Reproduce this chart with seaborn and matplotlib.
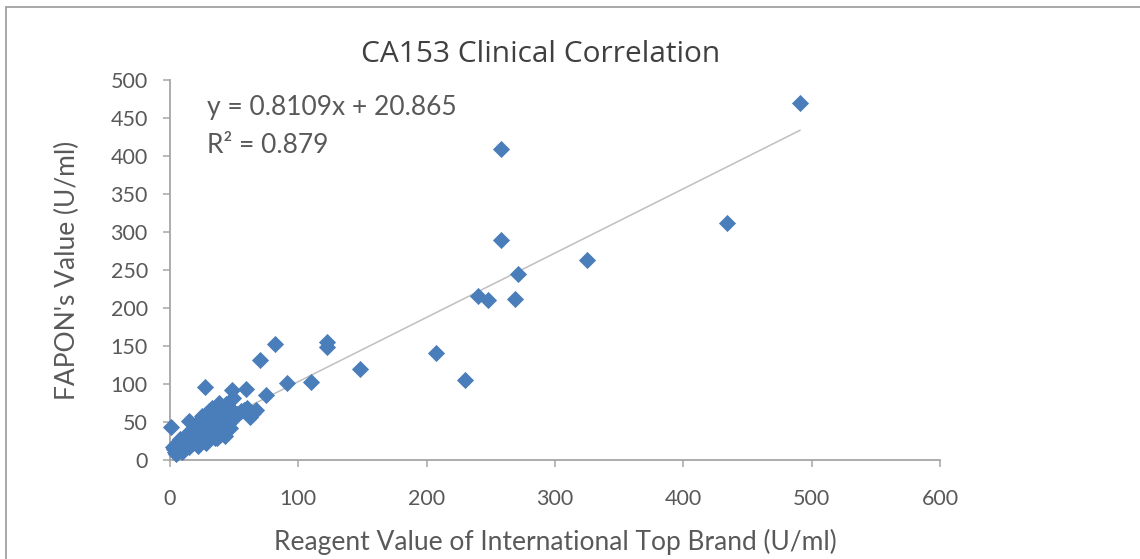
import matplotlib
matplotlib.use("Agg")
import matplotlib.pyplot as plt
import seaborn as sns
import pandas as pd
from matplotlib.patches import Rectangle

# ---- data ----
ref_x = [491, 258, 258, 434, 325, 271, 240, 248, 269, 207, 230, 148, 122, 122, 82, 70,
         91, 110, 59, 75, 27, 1, 48, 15, 62, 67, 58, 38, 49, 30, 44, 60, 65, 37, 43, 4, 41, 35,
         2, 3, 5, 5, 6, 7, 8, 8, 9, 10, 11, 12, 12, 13, 14, 15, 16, 17, 18, 18, 19, 20, 21, 22,
         22, 23, 24, 25, 26, 27, 28, 29, 30, 31, 32, 33, 34, 35, 36, 38, 39, 40, 42, 43, 45, 46,
         47, 50, 52, 55, 44, 36, 25, 20, 28, 33]
fapon_y = [470, 409, 290, 312, 263, 245, 216, 210, 212, 141, 105, 120, 155, 149, 153, 131,
           101, 103, 94, 86, 96, 44, 92, 51, 56, 66, 66, 75, 82, 64, 57, 68, 62, 29, 31, 11, 35, 29,
           17, 14, 20, 8, 24, 12, 18, 27, 10, 22, 15, 30, 19, 25, 35, 17, 28, 40, 22, 33, 30, 45, 25, 38,
           18, 53, 33, 42, 28, 48, 22, 37, 44, 55, 30, 40, 50, 36, 60, 45, 33, 52, 40, 62, 48, 70,
           42, 55, 60, 65, 74, 57, 58, 35, 60, 68]
trend_x = [0.5, 491]
trend_slope = 0.846
trend_intercept = 18.5
x_ticks = [0, 100, 200, 300, 400, 500, 600]
y_ticks = [0, 50, 100, 150, 200, 250, 300, 350, 400, 450, 500]
title = "CA153 Clinical Correlation"
x_label = "Reagent Value of International Top Brand (U/ml)"
y_label = "FAPON's Value (U/ml)"
eq_text = "y = 0.8109x + 20.865"
r2_text = "R² = 0.879"

df = pd.DataFrame({"x": ref_x, "y": fapon_y})
trend_df = pd.DataFrame({"x": trend_x,
                         "y": [trend_slope * v + trend_intercept for v in trend_x]})

sns.set_theme(style="white")
plt.rcParams["font.family"] = ["Lato", "DejaVu Sans"]

W, H = 1140, 559
fig = plt.figure(figsize=(W / 100, H / 100), dpi=100)
ax = fig.add_axes([170 / W, 1 - 460 / H, 770 / W, 380 / H])

label_col = "#595959"
spine_col = "#A6A6A6"
blue = "#4A7EBB"

sns.lineplot(data=trend_df, x="x", y="y", ax=ax, color="#BFBFBF", linewidth=1.1, zorder=2)
sns.scatterplot(data=df, x="x", y="y", ax=ax, marker="D", s=66, color=blue,
                edgecolor=blue, linewidth=0.6, zorder=3, clip_on=False)

ax.set_xlim(0, 600)
ax.set_ylim(0, 500)
ax.set_xticks(x_ticks)
ax.set_yticks(y_ticks)
ax.set_xticklabels([str(t) for t in x_ticks])
ax.set_yticklabels([str(t) for t in y_ticks])
ax.tick_params(axis="both", direction="out", length=5, width=1.1, color=spine_col,
               labelsize=15.5, labelcolor=label_col, bottom=True, left=True)
ax.tick_params(axis="x", pad=16)
ax.tick_params(axis="y", pad=11)
for s in ["top", "right"]:
    ax.spines[s].set_visible(False)
for s in ["left", "bottom"]:
    ax.spines[s].set_color(spine_col)
    ax.spines[s].set_linewidth(1.3)
ax.grid(False)

ax.set_xlabel(x_label, fontsize=19, color=label_col, labelpad=14)
ax.set_ylabel(y_label, fontsize=19, color=label_col, labelpad=22)

fig.text(541 / W, 1 - 54 / H, title, ha="center", va="center", fontsize=21.5,
         color="#404040", family=["Open Sans", "DejaVu Sans"])
fig.text(207 / W, 1 - 108 / H, eq_text, ha="left", va="center", fontsize=19, color=label_col)
fig.text(207 / W, 1 - 146 / H, r2_text, ha="left", va="center", fontsize=19, color=label_col)

# outer chart frame (cut off at right and bottom like the reference)
fig.patches.append(Rectangle((6 / W, -0.1), 1.2, 1 - 7 / H + 0.1, transform=fig.transFigure,
                             fill=False, edgecolor="#A0A0A0", linewidth=1.3))

fig.savefig("out.png", dpi=100, facecolor="white")
